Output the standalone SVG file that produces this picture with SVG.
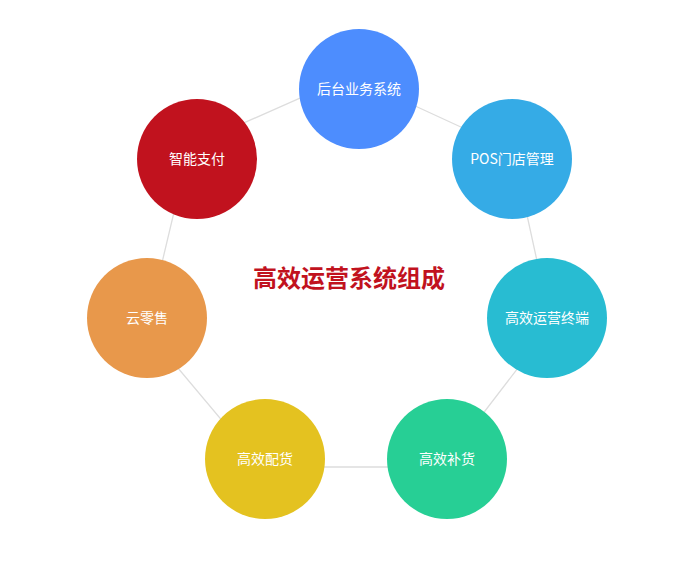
<svg xmlns="http://www.w3.org/2000/svg" width="700" height="570" viewBox="0 0 700 570">
<style>
.edge{fill:none;stroke:#dddddd;stroke-width:1.3}
.lbl{font-family:"Microsoft YaHei","Noto Sans CJK SC",sans-serif;font-size:14px;fill:#ffffff;text-anchor:middle}
.title{font-family:"Microsoft YaHei","Noto Sans CJK SC",sans-serif;font-size:24px;font-weight:bold;fill:#c1121e;text-anchor:middle}
</style>
<rect width="700" height="570" fill="#ffffff"/>
<g id="connectors">
<polygon class="edge" points="350,76 513,151 551,325 442,467 261,467 146,330 189.5,147"/>
</g>
<text class="title" x="349" y="287">高效运营系统组成</text>
<g id="n-houtai"><circle cx="359" cy="89" r="60" fill="#4d8dfe"/><text class="lbl" x="359" y="94">后台业务系统</text></g>
<g id="n-pos"><circle cx="512" cy="159" r="60" fill="#35abe6"/><text class="lbl" x="512" y="164">POS门店管理</text></g>
<g id="n-zhongduan"><circle cx="547" cy="318" r="60" fill="#28bcd2"/><text class="lbl" x="547" y="323">高效运营终端</text></g>
<g id="n-buhuo"><circle cx="447" cy="459" r="60" fill="#27cf95"/><text class="lbl" x="447" y="464">高效补货</text></g>
<g id="n-peihuo"><circle cx="265" cy="459" r="60" fill="#e4c220"/><text class="lbl" x="265" y="464">高效配货</text></g>
<g id="n-yun"><circle cx="147" cy="318" r="60" fill="#e8984b"/><text class="lbl" x="147" y="323">云零售</text></g>
<g id="n-zhineng"><circle cx="197" cy="159" r="60" fill="#c1121e"/><text class="lbl" x="197" y="164">智能支付</text></g>
</svg>
